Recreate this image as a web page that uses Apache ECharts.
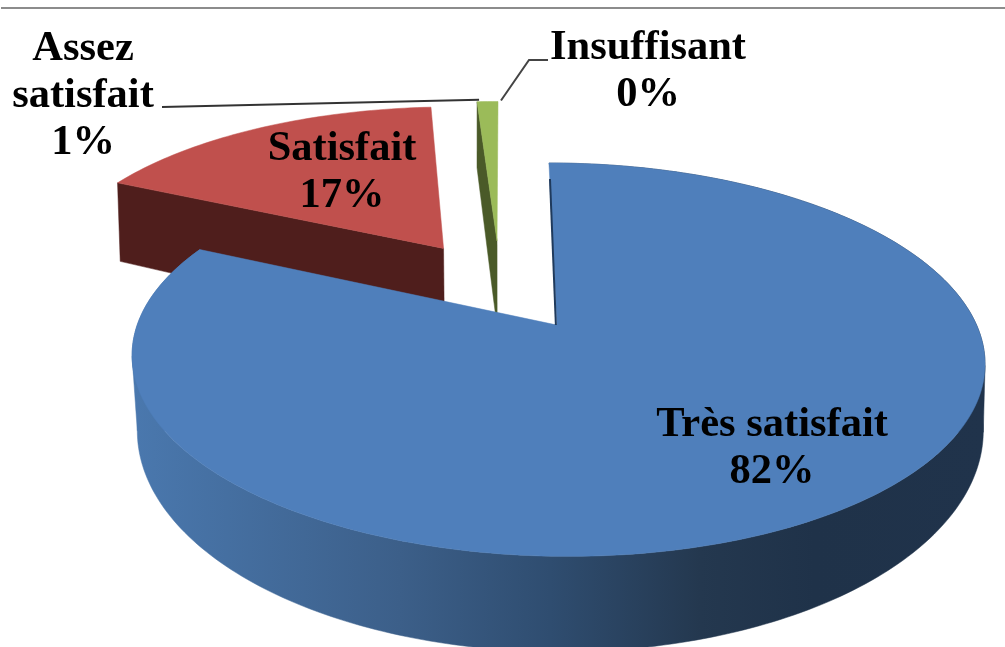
<!DOCTYPE html>
<html>
<head>
<meta charset="utf-8">
<title>Satisfaction</title>
<style>
  html, body { margin: 0; padding: 0; background: #fff; }
  #main { width: 1005px; height: 647px; filter: blur(0.6px); }
</style>
<script src="https://cdn.jsdelivr.net/npm/echarts@6/dist/echarts.min.js"></script>
</head>
<body>
<div id="main"></div>
<script>
const categories = ['Très satisfait', 'Satisfait', 'Assez satisfait', 'Insuffisant'];
const percents = [82, 17, 1, 0];

const faceColors = ['#4f7fbb', '#c0504d', '#9bbb59', '#8064a2'];
const wallColors = ['#3f628c', '#4f1e1c', '#4a5a28', '#40325a'];
const labelTexts = ['Très satisfait', 'Satisfait', 'Assez\nsatisfait', 'Insuffisant'];
const labelPos = [[772, 449], [342, 173], [83, 96], [648, 72]];

// perspective of the tilted disc, top face and bottom faces have their own plane
const topPlane = { cx: 504, cy: 288.6, a: 405.6, b: 178, k: 0.17 };
const bottomPlane = { cx: 504, cy: 381, a: 398, b: 199, k: 0.15 };
const bigBottomPlane = { cx: 507, cy: 387, a: 423, b: 221, k: 0 };
// how far each slice is pulled out of the pie, in disc units
const explodeX = [0.126, -0.155, -0.018, 0];
const explodeY = [-0.198, 0.235, 0.28, 0];

const font = 'bold 42.5px "Liberation Serif", serif';

const total = percents.reduce((s, v) => s + v, 0);
const starts = [];
percents.reduce((acc, v, i) => {
  starts[i] = acc;
  return acc + v;
}, 0);

function project(plane, t, r, i) {
  const u = r * Math.sin(t) + explodeX[i];
  const v = r * Math.cos(t) + explodeY[i];
  const d = 1 + plane.k * v;
  return [plane.cx + plane.a * u / d, plane.cy - plane.b * v / d];
}

function sliceAngles(i) {
  return {
    t0: starts[i] / total * Math.PI * 2,
    t1: (starts[i] + percents[i]) / total * Math.PI * 2,
  };
}

function arc(plane, i) {
  const a = sliceAngles(i);
  const pts = [];
  const steps = Math.max(2, Math.ceil((a.t1 - a.t0) / 0.02));
  for (let n = 0; n <= steps; n++) {
    pts.push(project(plane, a.t0 + (a.t1 - a.t0) * n / steps, 1, i));
  }
  return pts;
}

function extreme(points, sign) {
  return points.reduce((best, p) => (p[0] * sign > best[0] * sign ? p : best));
}

function poly(points, fill, z2) {
  return {
    type: 'polygon',
    z2: z2,
    shape: { points: points },
    style: { fill: fill, stroke: fill, lineWidth: 0.5 },
  };
}

function renderSlice(params, api) {
  const i = params.dataIndex;
  if (api.value(0) <= 0) return { type: 'group', children: [] };
  const base = i === 0 ? 20 : 10 - i;
  const topArc = arc(topPlane, i);
  const apexTop = project(topPlane, 0, 0, i);
  const children = [];

  if (i === 0) {
    // outer wall of the big slice, shaded from left to right
    const botArc = arc(bigBottomPlane, i);
    const apexBot = project(bigBottomPlane, 0, 0, i);
    const shade = new echarts.graphic.LinearGradient(132, 0, 985, 0, [
      { offset: 0, color: '#4a78ae' },
      { offset: 0.314, color: '#3c5f89' },
      { offset: 0.49, color: '#2f4d70' },
      { offset: 0.666, color: '#24384f' },
      { offset: 0.8, color: '#1f3249' },
      { offset: 1, color: '#20334b' },
    ], true);
    children.push(poly(topArc.concat(botArc.slice().reverse()), shade, base));
    // silhouette runs straight between the top and bottom outlines at both sides
    [-1, 1].forEach((sign) => {
      children.push(poly([extreme(topArc, sign), extreme(botArc, sign), apexBot, apexTop], shade, base));
    });
  } else {
    // radial wall on the start side of the slice
    const botArc = arc(bottomPlane, i);
    const apexBot = project(bottomPlane, 0, 0, i);
    children.push(poly([topArc[0], apexTop, apexBot, botArc[0]], wallColors[i], base));
  }
  children.push(poly([apexTop].concat(topArc), faceColors[i], base + 1));
  if (i === 0) {
    children.push({
      type: 'line',
      z2: base + 2,
      shape: {
        x1: topArc[0][0] + 1, y1: topArc[0][1] + 16,
        x2: apexTop[0] - 1, y2: apexTop[1],
      },
      style: { stroke: '#1f3a5c', lineWidth: 2 },
    });
  }
  return { type: 'group', children: children };
}

function renderLabel(params, api) {
  const i = params.dataIndex;
  return {
    type: 'text',
    z2: 50,
    style: {
      text: labelTexts[i] + '\n' + api.value(0) + '%',
      x: labelPos[i][0],
      y: labelPos[i][1],
      align: 'center',
      verticalAlign: 'middle',
      font: font,
      lineHeight: 47,
      fill: '#000',
    },
  };
}

const seriesData = percents.map((v, i) => ({ name: categories[i], value: [v] }));

// leader lines go from the sliver rim to the outer labels
const greenRim = arc(topPlane, 2);
const greenLeft = greenRim[0];
const greenRight = greenRim[greenRim.length - 1];

const chart = echarts.init(document.getElementById('main'), null, { renderer: 'canvas' });
chart.setOption({
  animation: false,
  backgroundColor: '#fff',
  graphic: [
    {
      type: 'line',
      shape: { x1: 1, y1: 8, x2: 1005, y2: 8 },
      style: { stroke: '#8c8c8c', lineWidth: 2 },
      silent: true,
    },
    {
      type: 'polyline',
      z: 5,
      shape: { points: [[162, 107], [greenLeft[0] + 2, greenLeft[1] - 2]] },
      style: { stroke: '#333', lineWidth: 2, fill: null },
      silent: true,
    },
    {
      type: 'polyline',
      z: 5,
      shape: { points: [[greenRight[0] + 3, greenRight[1] - 1], [529, 60], [548, 60]] },
      style: { stroke: '#444', lineWidth: 2, fill: null },
      silent: true,
    },
  ],
  series: [
    {
      type: 'custom',
      coordinateSystem: 'none',
      silent: true,
      renderItem: renderSlice,
      data: seriesData,
      z: 2,
    },
    {
      type: 'custom',
      coordinateSystem: 'none',
      silent: true,
      renderItem: renderLabel,
      data: seriesData,
      z: 10,
    },
  ],
});
</script>
</body>
</html>
